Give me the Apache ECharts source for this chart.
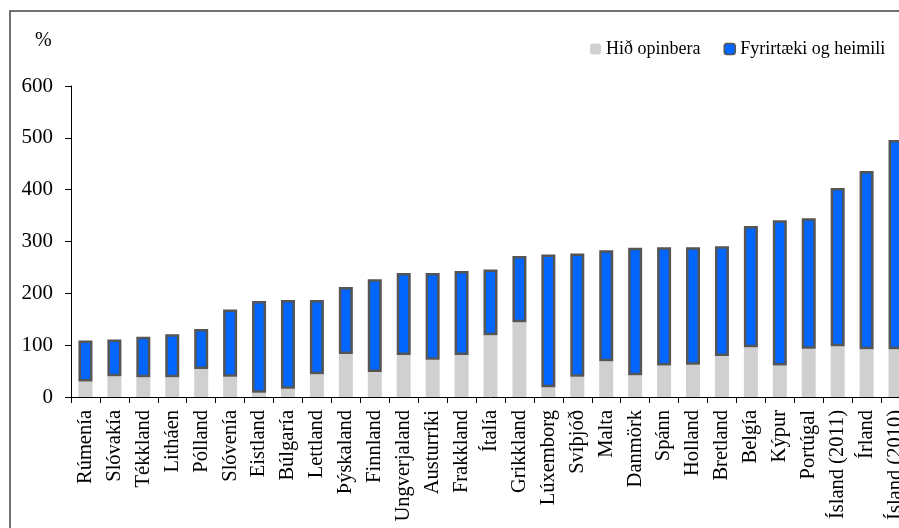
<!DOCTYPE html>
<html>
<head>
<meta charset="utf-8">
<title>Skuldir</title>
<script src="https://cdn.jsdelivr.net/npm/echarts@6/dist/echarts.min.js"></script>
<style>
  html, body { margin: 0; padding: 0; background: #fff; overflow: hidden; }
  /* the plot runs past the right edge of the window, as in the original */
  #chart { width: 910px; height: 528px; }
</style>
</head>
<body>
<div id="chart"></div>
<script>
var countries = ['Rúmenía', 'Slóvakía', 'Tékkland', 'Litháen', 'Pólland', 'Slóvenía', 'Eistland',
  'Búlgaría', 'Lettland', 'Þýskaland', 'Finnland', 'Ungverjaland', 'Austurríki', 'Frakkland',
  'Ítalía', 'Grikkland', 'Lúxemborg', 'Svíþjóð', 'Malta', 'Danmörk', 'Spánn', 'Holland',
  'Bretland', 'Belgía', 'Kýpur', 'Portúgal', 'Ísland (2011)', 'Írland', 'Ísland (2010)'];
// Hið opinbera
var publicDebt = [30, 40, 38, 38, 54, 39, 8, 16, 44, 83, 48, 81, 72, 81,
  119, 144, 19, 39, 69, 42, 61, 62, 79, 96, 61, 93, 98, 92, 92];
// Fyrirtæki og heimili
var privateDebt = [79, 71, 78, 83, 77, 130, 177, 171, 143, 129, 179, 158, 167, 162,
  127, 128, 256, 238, 214, 246, 228, 227, 212, 234, 280, 252, 305, 344, 404];
var yTicks = [0, 100, 200, 300, 400, 500, 600];

var serif = '"Liberation Serif", "DejaVu Serif", serif';
var chart = echarts.init(document.getElementById('chart'));

chart.setOption({
  animation: false,
  grid: { left: 71, right: 0, top: 86, bottom: 131, containLabel: false },
  legend: {
    left: 585, top: 35,
    itemWidth: 11, itemHeight: 11, itemGap: 23,
    textStyle: { fontFamily: serif, fontSize: 18, color: '#000' },
    data: [
      { name: 'Hið opinbera', itemStyle: { borderWidth: 0 } },
      { name: 'Fyrirtæki og heimili', itemStyle: { borderWidth: 1.5 } }
    ]
  },
  graphic: [
    { type: 'rect', shape: { x: 10, y: 11, width: 1000, height: 1000 },
      style: { fill: 'none', stroke: '#444', lineWidth: 1.5 }, silent: true },
    { type: 'text', left: 35, top: 31,
      style: { text: '%', font: '20px ' + serif, fill: '#000' } }
  ],
  xAxis: {
    type: 'category',
    data: countries,
    axisLine: { lineStyle: { color: '#000', width: 1 } },
    axisTick: { show: true, length: 6, lineStyle: { color: '#000' } },
    axisLabel: { rotate: 90, margin: 13, interval: 0, fontFamily: serif, fontSize: 20.5, color: '#000' }
  },
  yAxis: {
    type: 'value',
    min: yTicks[0], max: yTicks[yTicks.length - 1], interval: 100,
    splitLine: { show: false },
    axisLine: { show: true, lineStyle: { color: '#000', width: 1 } },
    axisTick: { show: true, length: 6, lineStyle: { color: '#000' } },
    axisLabel: { margin: 18, fontFamily: serif, fontSize: 21, color: '#000' }
  },
  series: [
    {
      name: 'Hið opinbera', type: 'bar', stack: 'total', barWidth: 14,
      itemStyle: { color: '#d0d0d0' },
      data: publicDebt
    },
    {
      name: 'Fyrirtæki og heimili', type: 'bar', stack: 'total', barWidth: 14,
      itemStyle: { color: '#0066ff', borderColor: '#555', borderWidth: 2.5 },
      data: privateDebt
    }
  ]
});
</script>
</body>
</html>
